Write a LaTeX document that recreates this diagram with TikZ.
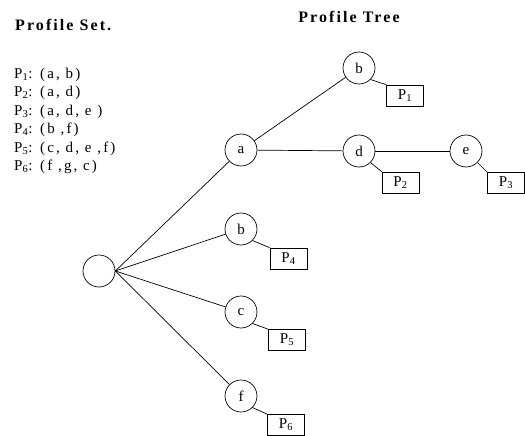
\documentclass[tikz,border=0pt]{standalone}
\usepackage{fontspec}
\setmainfont{Liberation Serif}
\newfontfamily\lsfont[LetterSpace=14]{Liberation Serif}
\newfontfamily\hdfont[LetterSpace=13]{Liberation Serif}
\begin{document}
\begin{tikzpicture}[x=1pt,y=-1pt,
  tn/.style={circle,draw,line width=0.7pt,minimum size=32pt,inner sep=0pt,font=\fontsize{15}{15}\selectfont},
  pbox/.style={draw,line width=0.7pt,minimum width=37pt,minimum height=21pt,inner sep=0pt,font=\fontsize{15}{15}\selectfont},
  ln/.style={line width=0.7pt},
  lst/.style={anchor=base west,inner sep=0pt,font=\lsfont\fontsize{15}{15}\selectfont},
  hd/.style={inner sep=0pt,font=\hdfont\fontsize{16}{16}\selectfont\bfseries}]
\useasboundingbox (0,0) rectangle (525,436);
\node[hd,anchor=west] (hset) at (15,25) {Profile Set.};
\node[hd] (htree) at (349,17) {Profile Tree};
\node[lst] (l1) at (14,78) {P\textsubscript{1}: (a, b)};
\node[lst] (l2) at (14,96.5) {P\textsubscript{2}: (a, d)};
\node[lst] (l3) at (14,115) {P\textsubscript{3}: (a, d, e )};
\node[lst] (l4) at (14,133.5) {P\textsubscript{4}: (b ,f)};
\node[lst] (l5) at (14,152) {P\textsubscript{5}: (c, d, e ,f)};
\node[lst] (l6) at (14,170.5) {P\textsubscript{6}: (f ,g, c)};
\node[tn] (r) at (99,271) {};
\node[tn] (a) at (241,150) {a};
\node[tn] (b1) at (359,68) {b};
\node[tn] (d) at (359,151) {d};
\node[tn] (e) at (466,151) {e};
\node[tn] (b2) at (241,229) {b};
\node[tn] (c) at (241,312) {c};
\node[tn] (f) at (241,396) {f};
\node[pbox] (p1) at (405,95.5) {P\textsubscript{1}};
\node[pbox] (p2) at (400.5,182.5) {P\textsubscript{2}};
\node[pbox] (p3) at (506,183) {P\textsubscript{3}};
\node[pbox] (p4) at (288.5,258.5) {P\textsubscript{4}};
\node[pbox] (p5) at (287,340) {P\textsubscript{5}};
\node[pbox] (p6) at (286,425) {P\textsubscript{6}};
\draw[ln] (r.east) -- (a);
\draw[ln] (r.east) -- (b2);
\draw[ln] (r.east) -- (c);
\draw[ln] (r.east) -- (f);
\draw[ln] (a) -- (b1);
\draw[ln] (a) -- (d);
\draw[ln] (d) -- (e);
\draw[ln] (b1.south east) -- (p1.north west);
\draw[ln] (d.south east) -- (p2.north west);
\draw[ln] (e.south east) -- (p3.north west);
\draw[ln] (b2.south east) -- (p4.north west);
\draw[ln] (c.south east) -- (p5.north west);
\draw[ln] (f.south east) -- (p6.north west);
\end{tikzpicture}
\end{document}
